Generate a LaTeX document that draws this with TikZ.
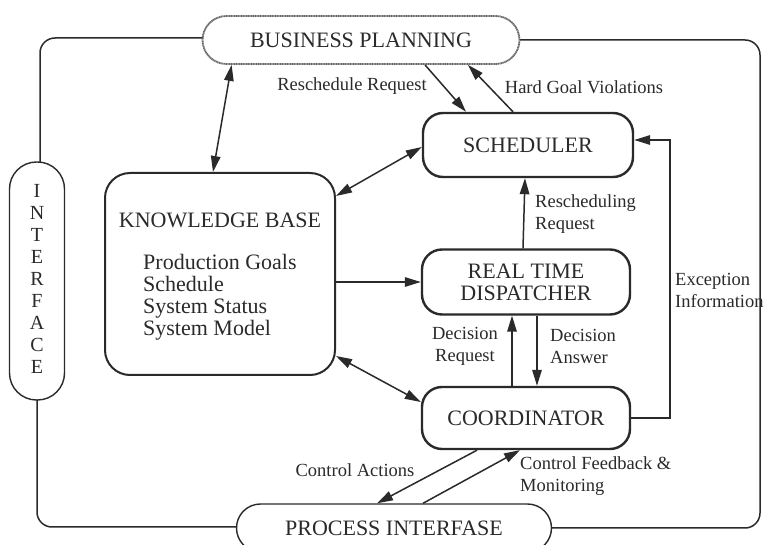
\documentclass[tikz,border=0pt]{standalone}
\usepackage{fontspec}
\setmainfont{Liberation Serif}
\usetikzlibrary{arrows.meta,calc}
\definecolor{ink}{HTML}{2A2A2A}
\begin{document}
\begin{tikzpicture}[x=1pt,y=-1pt,
  every node/.style={text=ink},
  bigtxt/.style={font=\fontsize{22}{22}\selectfont},
  smalltxt/.style={font=\fontsize{18.5}{22}\selectfont},
  unit/.style={draw=ink,line width=2.4pt,rounded corners=20pt,bigtxt,
    align=center,inner sep=0pt},
  pill/.style={draw=ink,line width=1.4pt,rounded corners=24pt,bigtxt,inner sep=0pt},
  flow/.style={draw=ink,line width=1.5pt},
  tip/.style={-{Triangle[length=16pt,width=9.5pt]}},
  both/.style={{Triangle[length=16pt,width=9.5pt]}-{Triangle[length=16pt,width=9.5pt]}},
]
\useasboundingbox[fill=white] (0,0) rectangle (772,545);

% outer information loop
\draw[flow,rounded corners=15pt] (203,38) -- (40,38) -- (40,162);
\draw[flow,rounded corners=15pt] (37,400) -- (37,527) -- (237,527);
\draw[flow,rounded corners=15pt] (520,40) -- (760,40) -- (760,528) -- (552,528);

% blocks
\node[pill,draw=black!60,line width=1.8pt,dash pattern=on 1.2pt off 0.5pt,
  minimum width=317pt,minimum height=48pt] (BP) at (361,40) {BUSINESS PLANNING};
\node[pill,minimum width=315pt,minimum height=48pt] (PI) at (394,528) {PROCESS INTERFASE};
\node[pill,rounded corners=27pt,minimum width=55pt,minimum height=238pt] (IF) at (37,281)
  {\fontsize{20}{22}\selectfont\begin{tabular}{@{}c@{}}I\\N\\T\\E\\R\\F\\A\\C\\E\end{tabular}};
\node[unit,minimum width=210pt,minimum height=64pt] (SCH) at (528,145) {SCHEDULER};
\node[unit,minimum width=208pt,minimum height=65pt] (DSP) at (526,282) {REAL TIME\\DISPATCHER};
\node[unit,minimum width=208pt,minimum height=62pt] (CRD) at (526,418) {COORDINATOR};
\node[unit,line width=2pt,rounded corners=25pt,minimum width=230pt,minimum height=202pt]
  (KB) at (220,274) {};
\node[bigtxt] (KBt) at (220,220) {KNOWLEDGE BASE};
\node[bigtxt,anchor=north west,align=left,inner sep=0pt] (KBl) at (143,254)
  {Production Goals\\Schedule\\System Status\\System Model};

% connectors
\draw[flow,both] ($(BP.south west)+(30,0)$) -- ($(KB.north)+(-7,0)$);
\draw[flow,tip] ($(BP.south)+(64,0)$) -- ($(SCH.north)+(-62,0)$);
\draw[flow,tip] ($(SCH.north)+(-15,0)$) -- ($(BP.south)+(107,0)$);
\draw[flow,both] ($(KB.north east)+(0,24)$) -- ($(SCH.west)+(0,2)$);
\draw[flow,tip] (KB.east |- DSP.west) -- (DSP.west);
\draw[flow,both] ($(KB.south east)+(0,-20)$) -- ($(CRD.west)+(0,-16)$);
\draw[flow,tip] ($(DSP.north)+(-3,0)$) -- ($(SCH.south)+(-3,0)$);
\draw[flow,tip] ($(CRD.north)+(-14,0)$) -- ($(DSP.south)+(-14,0)$);
\draw[flow,tip] ($(DSP.south)+(11,0)$) -- ($(CRD.north)+(11,0)$);
\coordinate (exc) at (670,140);
\draw[flow,tip] (CRD.east) -| (exc) -- ($(SCH.east)+(0,-5)$);
\draw[flow,tip] ($(CRD.south)+(-49,0)$) -- ($(PI.north)+(-17,0)$);
\draw[flow,tip] ($(PI.north)+(29,0)$) -- ($(CRD.south)+(-6,0)$);

% connector labels
\node[smalltxt] (l1) at (352,86) {Reschedule Request};
\node[smalltxt] (l2) at (584,87) {Hard Goal Violations};
\node[smalltxt,anchor=west,align=left,inner sep=0pt] (l3) at (535,214) {Rescheduling\\Request};
\node[smalltxt,anchor=west,align=left,inner sep=0pt] (l4) at (675,290) {Exception\\Information};
\node[smalltxt,align=center,inner sep=0pt] (l5) at (465,346) {Decision\\Request};
\node[smalltxt,anchor=west,align=left,inner sep=0pt] (l6) at (550,346) {Decision\\Answer};
\node[smalltxt] (l7) at (355,470) {Control Actions};
\node[smalltxt,anchor=west,align=left,inner sep=0pt] (l8) at (520,476) {Control Feedback \&\\Monitoring};
\end{tikzpicture}
\end{document}
